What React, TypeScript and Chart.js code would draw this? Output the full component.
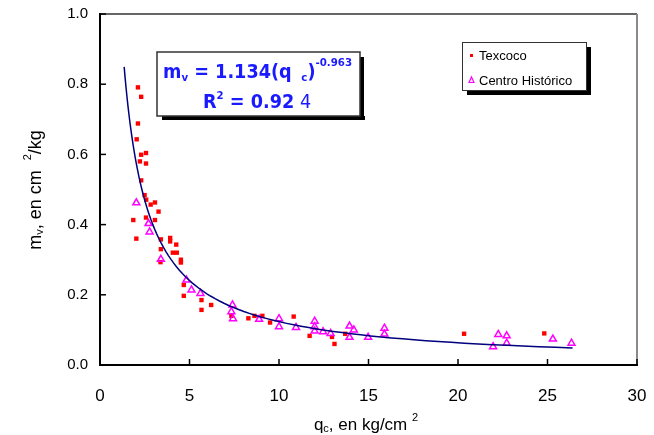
import React, { useEffect, useRef } from "react";
import { Chart, registerables } from "chart.js";

Chart.register(...registerables);

// ---- Data ----
const texcocoQc = [
  2.12, 2.30, 2.12, 2.05, 2.30, 2.57, 2.23, 2.57, 2.30, 2.49, 2.58, 2.83, 3.07, 3.27,
  1.86, 2.57, 3.07, 2.03, 3.40, 3.92, 3.92, 4.26, 3.40, 4.07, 4.29, 3.38, 4.52, 4.52,
  4.68, 4.68, 5.67, 5.67, 6.21, 7.34, 8.29, 8.63, 9.07, 9.50, 10.82, 11.71, 12.96,
  13.10, 13.70, 20.34, 24.82,
];
const texcocoMv = [
  0.791, 0.764, 0.688, 0.643, 0.599, 0.604, 0.580, 0.574, 0.526, 0.484, 0.471, 0.457, 0.463, 0.437,
  0.413, 0.420, 0.413, 0.360, 0.358, 0.362, 0.352, 0.343, 0.330, 0.320, 0.320, 0.293, 0.300, 0.292,
  0.228, 0.197, 0.185, 0.157, 0.171, 0.140, 0.133, 0.140, 0.140, 0.121, 0.138, 0.083, 0.080,
  0.060, 0.089, 0.089, 0.090,
];
const centroQc = [
  2.03, 2.71, 2.77, 3.40, 4.83, 5.11, 5.61, 7.40, 7.34, 7.43, 8.89, 10.00, 10.00, 10.95,
  11.99, 11.99, 11.99, 12.46, 12.88, 13.94, 13.94, 14.18, 14.98, 15.89, 15.89, 21.96,
  22.25, 22.72, 22.72, 25.30, 26.34,
];
const centroMv = [
  0.462, 0.403, 0.379, 0.301, 0.242, 0.214, 0.204, 0.171, 0.152, 0.132, 0.130, 0.132, 0.109, 0.107,
  0.125, 0.109, 0.097, 0.095, 0.090, 0.111, 0.079, 0.100, 0.079, 0.105, 0.088, 0.052,
  0.087, 0.083, 0.062, 0.074, 0.062,
];
const xTickValues = [0, 5, 10, 15, 20, 25, 30];
const yTickValues = [0, 0.2, 0.4, 0.6, 0.8, 1.0];
const seriesNames = ["Texcoco", "Centro Histórico"];

// Fitted power trendline shown in the chart: mv = 1.134 * qc^-0.963
const TREND_COEF = 1.134;
const TREND_EXP = -0.963;
const TREND_QC_START = 1.35;
const TREND_QC_END = 26.4;
const TREND_SAMPLES = 80;

function trendPoints() {
  const pts: { x: number; y: number }[] = [];
  const l0 = Math.log(TREND_QC_START);
  const l1 = Math.log(TREND_QC_END);
  for (let i = 0; i <= TREND_SAMPLES; i++) {
    const qc = Math.exp(l0 + ((l1 - l0) * i) / TREND_SAMPLES);
    pts.push({ x: qc, y: TREND_COEF * Math.pow(qc, TREND_EXP) });
  }
  return pts;
}

type Part = { t: string; size: number; bold: boolean; dy: number };

function drawParts(ctx: CanvasRenderingContext2D, parts: Part[], x: number, y: number, family: string, color: string) {
  let cx = x;
  ctx.fillStyle = color;
  ctx.textBaseline = "alphabetic";
  ctx.textAlign = "left";
  for (const p of parts) {
    ctx.font = `${p.bold ? "bold " : ""}${p.size}px ${family}`;
    ctx.fillText(p.t, cx, y + p.dy);
    cx += ctx.measureText(p.t).width;
  }
  return cx - x;
}

function measureParts(ctx: CanvasRenderingContext2D, parts: Part[], family: string) {
  let w = 0;
  for (const p of parts) {
    ctx.font = `${p.bold ? "bold " : ""}${p.size}px ${family}`;
    w += ctx.measureText(p.t).width;
  }
  return w;
}

const ARIAL = "'Liberation Sans', Arial, sans-serif";
const EQ_FONT = "'DejaVu Sans', Verdana, sans-serif";

const overlay = {
  id: "overlay",
  afterDraw(chart: any) {
    const { ctx, chartArea: a, scales } = chart;
    const xs = scales.x;
    const ys = scales.y;
    const line = (x1: number, y1: number, x2: number, y2: number) => {
      ctx.beginPath();
      ctx.moveTo(x1, y1);
      ctx.lineTo(x2, y2);
      ctx.stroke();
    };
    ctx.save();
    // plot frame
    ctx.strokeStyle = "#333";
    ctx.lineWidth = 1.5;
    line(a.left, a.top, a.right, a.top);
    ctx.strokeStyle = "#8a8a8a";
    ctx.lineWidth = 2;
    line(a.right, a.top, a.right, a.bottom);
    ctx.strokeStyle = "#000";
    ctx.lineWidth = 2;
    line(a.left, a.top - 1, a.left, a.bottom + 1);
    line(a.left, a.bottom, a.right + 1, a.bottom);
    // inward ticks
    ctx.lineWidth = 1.5;
    for (const v of yTickValues) {
      const py = ys.getPixelForValue(v);
      line(a.left, py, a.left + 6, py);
    }
    for (const v of xTickValues) {
      const px = xs.getPixelForValue(v);
      line(px, a.bottom, px, a.bottom - 6);
    }

    // x axis title
    const xt: Part[] = [
      { t: "q", size: 17, bold: false, dy: 0 },
      { t: "c", size: 11, bold: false, dy: 2 },
      { t: ", en kg/cm ", size: 17, bold: false, dy: 0 },
      { t: "2", size: 11, bold: false, dy: -9 },
    ];
    const xw = measureParts(ctx, xt, ARIAL);
    drawParts(ctx, xt, 366 - xw / 2, 430, ARIAL, "#000");

    // y axis title (rotated)
    const yt: Part[] = [
      { t: "m", size: 18, bold: false, dy: 0 },
      { t: "v", size: 11, bold: false, dy: 2 },
      { t: ", en cm  ", size: 18, bold: false, dy: 0 },
      { t: "2", size: 11, bold: false, dy: -10 },
      { t: "/kg", size: 18, bold: false, dy: 0 },
    ];
    const yw = measureParts(ctx, yt, ARIAL);
    ctx.save();
    ctx.translate(41, 190);
    ctx.rotate(-Math.PI / 2);
    drawParts(ctx, yt, -yw / 2, 0, ARIAL, "#000");
    ctx.restore();

    // equation box
    const bx = 157, by = 52, bw = 203, bh = 64;
    ctx.fillStyle = "#000";
    ctx.fillRect(bx + 5, by + bh, bw, 4);
    ctx.fillRect(bx + bw, by + 5, 4, bh - 1);
    ctx.fillStyle = "#fff";
    ctx.fillRect(bx, by, bw, bh);
    ctx.strokeStyle = "#333";
    ctx.lineWidth = 1.5;
    ctx.strokeRect(bx, by, bw, bh);

    const blue = "#1a1aff";
    const eqSize = 19;
    const l1: Part[] = [
      { t: "m", size: eqSize, bold: true, dy: 0 },
      { t: "v", size: 11, bold: true, dy: 3 },
      { t: " = " + TREND_COEF.toFixed(3) + "(q ", size: eqSize, bold: true, dy: 0 },
      { t: " c", size: 11, bold: true, dy: 3 },
      { t: ")", size: eqSize, bold: true, dy: 0 },
      { t: String(TREND_EXP), size: 11, bold: true, dy: -12 },
    ];
    const w1 = measureParts(ctx, l1, EQ_FONT);
    const target = 189;
    ctx.save();
    ctx.translate(163, 78);
    ctx.scale(target / w1, 1);
    drawParts(ctx, l1, 0, 0, EQ_FONT, blue);
    ctx.restore();
    const l2: Part[] = [
      { t: "R", size: eqSize, bold: true, dy: 0 },
      { t: "2", size: 11, bold: true, dy: -9 },
      { t: " = 0.92", size: eqSize, bold: true, dy: 0 },
      { t: " 4", size: eqSize, bold: false, dy: 0 },
    ];
    ctx.save();
    ctx.translate(203, 108);
    ctx.scale(target / w1, 1);
    drawParts(ctx, l2, 0, 0, EQ_FONT, blue);
    ctx.restore();

    // legend box
    const lx = 462, ly = 42, lw = 124, lh = 48;
    ctx.fillStyle = "#000";
    ctx.fillRect(lx + 5, ly + lh, lw, 5);
    ctx.fillRect(lx + lw, ly + 5, 5, lh);
    ctx.fillStyle = "#fff";
    ctx.fillRect(lx, ly, lw, lh);
    ctx.strokeStyle = "#333";
    ctx.lineWidth = 1;
    ctx.strokeRect(lx + 0.5, ly + 0.5, lw, lh);
    // markers
    ctx.fillStyle = "#ff0000";
    ctx.fillRect(470, 54, 3, 3);
    ctx.strokeStyle = "#ff00ff";
    ctx.lineWidth = 1.2;
    ctx.beginPath();
    ctx.moveTo(471.5, 77);
    ctx.lineTo(474, 82.5);
    ctx.lineTo(469, 82.5);
    ctx.closePath();
    ctx.stroke();
    ctx.fillStyle = "#000";
    ctx.font = `13px ${ARIAL}`;
    ctx.textBaseline = "middle";
    ctx.fillText(seriesNames[0], 479, 56);
    ctx.fillText(seriesNames[1], 479, 81);
    ctx.restore();
  },
};

export default function App() {
  const ref = useRef<HTMLCanvasElement | null>(null);
  useEffect(() => {
    if (!ref.current) return;
    const chart = new Chart(ref.current, {
      type: "scatter",
      data: {
        datasets: [
          {
            label: "trend",
            data: trendPoints(),
            showLine: true,
            pointRadius: 0,
            borderColor: "#00007f",
            borderWidth: 1.5,
            tension: 0,
            order: 0,
          } as any,
          {
            label: seriesNames[0],
            data: texcocoQc.map((x, i) => ({ x, y: texcocoMv[i] })),
            pointStyle: "rect",
            pointRadius: 3.1,
            backgroundColor: "#ff0000",
            borderColor: "#ff0000",
            borderWidth: 0,
            order: 2,
          },
          {
            label: seriesNames[1],
            data: centroQc.map((x, i) => ({ x, y: centroMv[i] })),
            pointStyle: "triangle",
            pointRadius: 4,
            backgroundColor: "rgba(255,255,255,0)",
            borderColor: "#ff00ff",
            borderWidth: 1.5,
            order: 1,
          },
        ],
      },
      options: {
        animation: false,
        responsive: false,
        layout: { padding: { top: 14, right: 17, left: 0, bottom: 0 } },
        plugins: { legend: { display: false }, tooltip: { enabled: false } },
        scales: {
          x: {
            type: "linear",
            min: 0,
            max: 30,
            afterFit: (s: any) => {
              s.height = 70;
              s.paddingLeft = 0;
              s.paddingRight = 0;
            },
            afterBuildTicks: (s: any) => {
              s.ticks = xTickValues.map((v) => ({ value: v }));
            },
            grid: { display: false, drawTicks: false },
            border: { display: false },
            ticks: {
              autoSkip: false,
              maxRotation: 0,
              padding: 21,
              color: "#000",
              font: { family: "'Liberation Sans Narrow', 'Liberation Sans', Arial, sans-serif", size: 17 },
              callback: (v: any) => String(v),
            },
          },
          y: {
            type: "linear",
            min: 0,
            max: 1,
            afterFit: (s: any) => {
              s.width = 100;
              s.paddingTop = 0;
              s.paddingBottom = 0;
            },
            afterBuildTicks: (s: any) => {
              s.ticks = yTickValues.map((v) => ({ value: v }));
            },
            grid: { display: false, drawTicks: false },
            border: { display: false },
            ticks: {
              autoSkip: false,
              padding: 12,
              color: "#000",
              font: { family: ARIAL, size: 15 },
              callback: (v: any) => Number(v).toFixed(1),
            },
          },
        },
      },
      plugins: [overlay],
    });
    return () => chart.destroy();
  }, []);
  return (
    <div style={{ position: "absolute", left: 0, top: 0, width: 654, height: 435, background: "#fff" }}>
      <canvas ref={ref} width={654} height={435} style={{ width: 654, height: 435 }} />
    </div>
  );
}
